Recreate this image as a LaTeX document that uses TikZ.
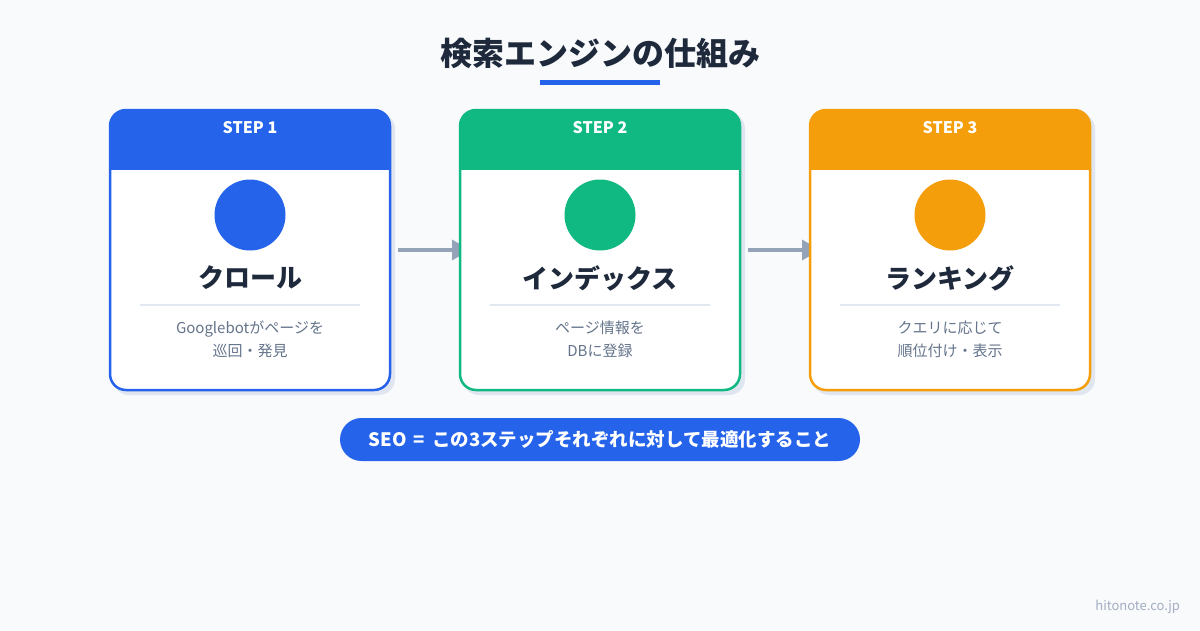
\documentclass[tikz,border=0pt]{standalone}
\usepackage{fontspec}
\setmainfont{Noto Sans CJK JP}
\usetikzlibrary{arrows.meta,positioning}

\definecolor{pagebg}{HTML}{F8FAFC}
\definecolor{ink}{HTML}{1E293B}
\definecolor{slate}{HTML}{64748B}
\definecolor{rulegray}{HTML}{E2E8F0}
\definecolor{shadowgray}{HTML}{DFE6EF}
\definecolor{arrowgray}{HTML}{94A3B8}
\definecolor{markgray}{HTML}{A3AEC2}
\definecolor{stepblue}{HTML}{2563EB}
\definecolor{stepgreen}{HTML}{10B981}
\definecolor{steporange}{HTML}{F59E0B}

\pgfdeclarelayer{back}
\pgfsetlayers{back,main}

\begin{document}
\begin{tikzpicture}[x=1pt, y=1pt, >={Triangle[length=18pt, width=20pt]},
                    every node/.style={align=center, inner sep=0pt, outer sep=0pt},
                    card/.style={draw=#1, fill=white, line width=2.5pt, rounded corners=16pt,
                                 minimum width=280pt, minimum height=280pt},
                    cardshadow/.style={fill=shadowgray, rounded corners=16pt,
                                       minimum width=282pt, minimum height=282pt},
                    steplabel/.style={text=white, font=\bfseries\fontsize{16}{18}\selectfont},
                    stepdot/.style={circle, fill=#1, minimum size=71pt},
                    steptitle/.style={text=ink, font=\bfseries\fontsize{26}{30}\selectfont},
                    stepdesc/.style={text=slate, font=\fontsize{15}{23}\selectfont}]
  % Page
  \begin{pgfonlayer}{back}
    \fill[pagebg] (0,0) rectangle (1200,-630);
  \end{pgfonlayer}

  % Heading
  \node[text=ink, font=\bfseries\fontsize{32}{36}\selectfont] (heading) at (600,-53)
    {検索エンジンの仕組み};
  \node[fill=stepblue, minimum width=120pt, minimum height=5pt] (headbar) at (600,-82.5) {};

  % Define cards
  \node[card=stepblue] (crawl) at (250,-250) {};
  \node[card=stepgreen, right=70pt of crawl] (index) {};
  \node[card=steporange, right=70pt of index] (rank) {};

  % Card headers
  \begin{scope}
    \clip[rounded corners=16pt] (crawl.north west) rectangle (crawl.south east);
    \fill[stepblue] (crawl.north west) rectangle ([yshift=-60pt]crawl.north east);
  \end{scope}
  \begin{scope}
    \clip[rounded corners=16pt] (index.north west) rectangle (index.south east);
    \fill[stepgreen] (index.north west) rectangle ([yshift=-60pt]index.north east);
  \end{scope}
  \begin{scope}
    \clip[rounded corners=16pt] (rank.north west) rectangle (rank.south east);
    \fill[steporange] (rank.north west) rectangle ([yshift=-60pt]rank.north east);
  \end{scope}

  % Shadows
  \begin{pgfonlayer}{back}
    \node[cardshadow] (crawlshadow) at ([shift={(4pt,-4pt)}]crawl.center) {};
    \node[cardshadow] (indexshadow) at ([shift={(4pt,-4pt)}]index.center) {};
    \node[cardshadow] (rankshadow) at ([shift={(4pt,-4pt)}]rank.center) {};
  \end{pgfonlayer}

  % Step 1
  \node[steplabel] (crawlstep) at ([yshift=-18pt]crawl.north) {STEP 1};
  \node[stepdot=stepblue] (crawldot) at ([yshift=-105pt]crawl.north) {};
  \node[steptitle] (crawltitle) at ([yshift=-168pt]crawl.north) {クロール};
  \draw[rulegray, line width=2pt] ([shift={(-110pt,-195pt)}]crawl.north) -- ([shift={(110pt,-195pt)}]crawl.north);
  \node[stepdesc] (crawldesc) at ([yshift=-229.5pt]crawl.north) {Googlebotがページを\\巡回・発見};

  % Step 2
  \node[steplabel] (indexstep) at ([yshift=-18pt]index.north) {STEP 2};
  \node[stepdot=stepgreen] (indexdot) at ([yshift=-105pt]index.north) {};
  \node[steptitle] (indextitle) at ([yshift=-168pt]index.north) {インデックス};
  \draw[rulegray, line width=2pt] ([shift={(-110pt,-195pt)}]index.north) -- ([shift={(110pt,-195pt)}]index.north);
  \node[stepdesc] (indexdesc) at ([yshift=-229.5pt]index.north) {ページ情報を\\DBに登録};

  % Step 3
  \node[steplabel] (rankstep) at ([yshift=-18pt]rank.north) {STEP 3};
  \node[stepdot=steporange] (rankdot) at ([yshift=-105pt]rank.north) {};
  \node[steptitle] (ranktitle) at ([yshift=-168pt]rank.north) {ランキング};
  \draw[rulegray, line width=2pt] ([shift={(-110pt,-195pt)}]rank.north) -- ([shift={(110pt,-195pt)}]rank.north);
  \node[stepdesc] (rankdesc) at ([yshift=-229.5pt]rank.north) {クエリに応じて\\順位付け・表示};

  % Define paths
  \begin{pgfonlayer}{back}
    \draw[->, arrowgray, line width=3.5pt] ([xshift=8pt]crawl.east) -- ([xshift=10pt]index.west);
    \draw[->, arrowgray, line width=3.5pt] ([xshift=8pt]index.east) -- ([xshift=10pt]rank.west);
  \end{pgfonlayer}

  % Summary
  \node[fill=stepblue, rounded corners=21.5pt, minimum width=520pt, minimum height=43pt,
        text=white, font=\bfseries\fontsize{18.5}{20}\selectfont, below=28pt of index] (summary)
    {SEO\hspace{7pt}=\hspace{7pt}この3ステップそれぞれに対して最適化すること};

  % Site mark
  \node[anchor=east, text=markgray, font=\fontsize{13}{15}\selectfont] (sitemark) at (1180,-607)
    {hitonote.co.jp};
\end{tikzpicture}
\end{document}
